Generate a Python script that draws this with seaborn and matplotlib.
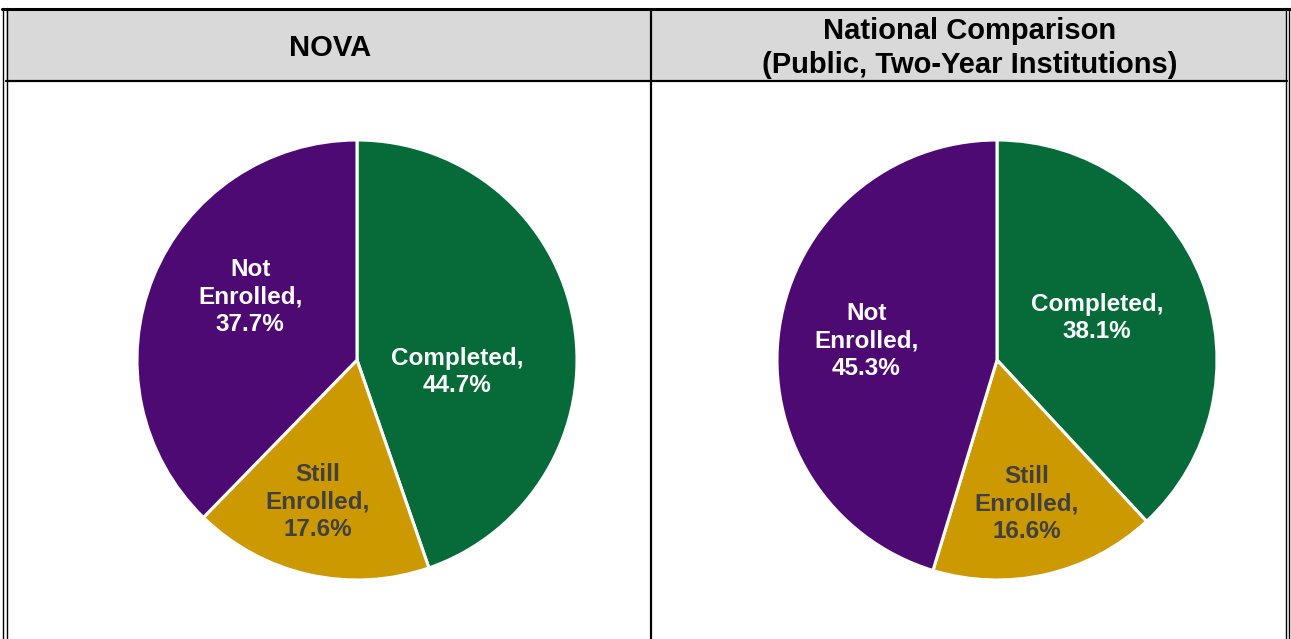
import matplotlib
matplotlib.use("Agg")
import matplotlib.pyplot as plt
from matplotlib.lines import Line2D
from matplotlib.patches import Rectangle
import seaborn as sns

sns.set_theme(style="white")
plt.rcParams['font.family'] = ['Liberation Sans', 'DejaVu Sans']

categories = ["Completed", "Still Enrolled", "Not Enrolled"]
label_lines = ["Completed,", "Still\nEnrolled,", "Not\nEnrolled,"]
nova_values = [44.7, 17.6, 37.7]
national_values = [38.1, 16.6, 45.3]
panel_titles = ["NOVA", "National Comparison\n(Public, Two-Year Institutions)"]

colors = ["#066b38", "#cc9900", "#4e0a73"]
text_colors = ["white", "#404040", "white"]

# label offsets inside the pie (pie radius = 1)
nova_label_pos = [(0.455, -0.055), (-0.177, -0.645), (-0.486, 0.286)]
nat_label_pos = [(0.455, 0.19), (0.136, -0.655), (-0.595, 0.086)]

W, H = 1291, 639
fig = plt.figure(figsize=(W / 100, H / 100), dpi=100)

def fx(x):
    return x / W

def fy(y):
    return 1 - y / H

# header background
fig.add_artist(Rectangle((fx(6), fy(80)), fx(1287) - fx(6), fy(10) - fy(80),
                         transform=fig.transFigure, facecolor="#d9d9d9",
                         edgecolor="none", zorder=0))

def hline(y, x0, x1, lw):
    fig.add_artist(Line2D([fx(x0), fx(x1)], [fy(y), fy(y)], transform=fig.transFigure,
                          color="black", lw=lw, zorder=5))

def vline(x, y0, y1, lw):
    fig.add_artist(Line2D([fx(x), fx(x)], [fy(y0), fy(y1)], transform=fig.transFigure,
                          color="black", lw=lw, zorder=5))

hline(9, 2, 1290, 2.2)
hline(80.5, 6, 1287, 1.6)
vline(3, 8, 639, 1.0)
vline(7, 8, 639, 1.0)
vline(1285.5, 8, 639, 1.0)
vline(1289, 8, 639, 1.0)
vline(651, 9, 639, 1.6)

fig.text(fx(330), fy(48), panel_titles[0], ha="center", va="center",
         fontsize=21, fontweight="bold", color="black")
fig.text(fx(970), fy(48), panel_titles[1], ha="center", va="center",
         fontsize=21, fontweight="bold", color="black", linespacing=1.25)

def draw_pie(cx, cy, r, values, label_pos):
    ax = fig.add_axes([fx(cx - r), fy(cy + r), (2 * r) / W, (2 * r) / H])
    ax.pie(values, colors=colors, startangle=90, counterclock=False,
           wedgeprops=dict(edgecolor="white", linewidth=2.2))
    ax.set_xlim(-1, 1)
    ax.set_ylim(-1, 1)
    ax.set_aspect("equal")
    ax.axis("off")
    for lab, v, (x, y), tc in zip(label_lines, values, label_pos, text_colors):
        ax.text(x, y, f"{lab}\n{v:.1f}%", ha="center", va="center",
                fontsize=17.5, fontweight="bold", color=tc, linespacing=1.24)
    return ax

draw_pie(357, 360, 220, nova_values, nova_label_pos)
draw_pie(997, 360, 220, national_values, nat_label_pos)

fig.savefig("out.png", dpi=100)
